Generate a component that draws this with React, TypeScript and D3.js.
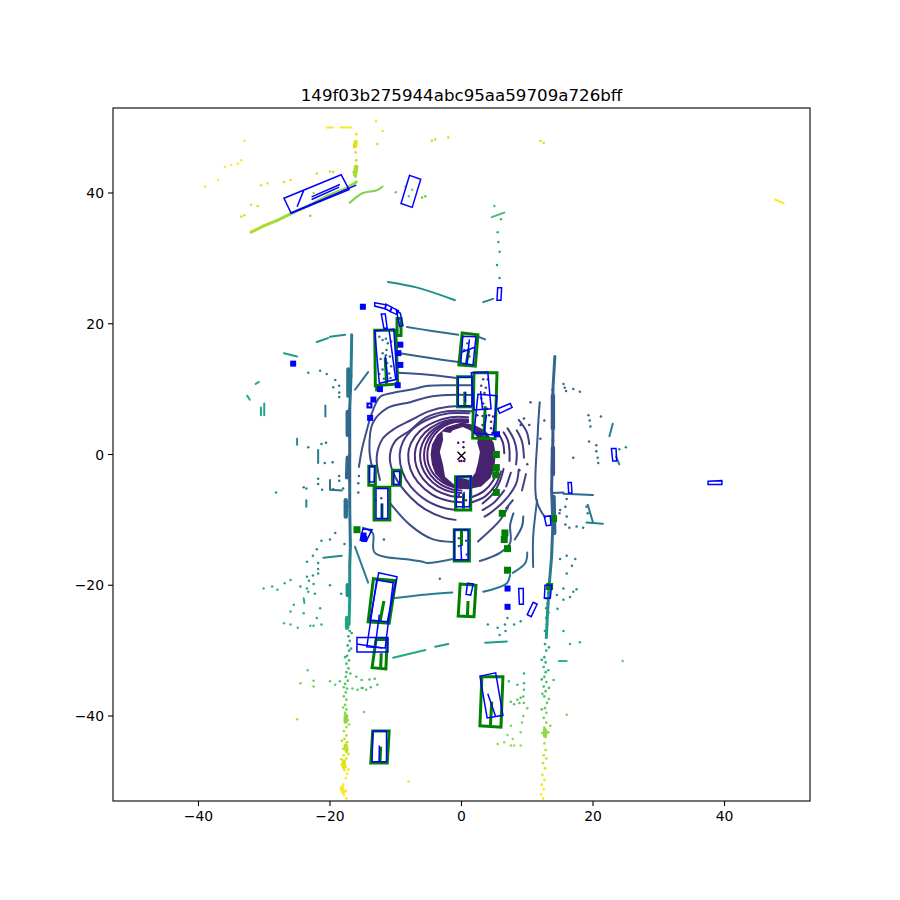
import React from "react";
import * as d3 from "d3";

type P = [number, number];

const titleText = "149f03b275944abc95aa59709a726bff";
const xTicks = [-40, -20, 0, 20, 40];
const yTicks = [-40, -20, 0, 20, 40];
const domainX: P = [-53, 53];
const domainY: P = [-53, 53];
const colorMaxDistance = 53;

const innerDense: P[] = [[-4.7,0],[-4.5,1.5],[-3.7,3],[-2.3,4.2],[0,4.9],[2,4.5],[3.7,3.6],[4.9,1.8],[5.2,0],[5,-2],[4.4,-3.6],[3,-4.9],[1,-5.3],[-1,-5.2],[-2.7,-4.4],[-4,-2.9],[-4.5,-1.5]];
const egoHole: P[] = [[-2.9,3.5],[-1.7,3.3],[-1.3,3.7],[0.2,4.2],[1.3,3.7],[2.1,3],[2.5,2.5],[2.4,1.8],[2.8,0.4],[2.5,-1.3],[2.1,-2.8],[1.3,-3.9],[-0.7,-3.4],[-1,-4.7],[-2.5,-3.4],[-2.8,-1.6],[-3.3,0.4],[-2.8,2.2]];
const egoDots: P[] = [[-0.5,1.8],[0.3,1.9],[0.3,1.1],[0,-1],[-0.3,-1],[0.4,-1]];
const egoMarker: P = [0, -0.2];

const rings: P[][] = [
  [[1,4.95],[-1,4.95],[-2.6,4.36],[-4.06,3.12],[-4.94,1.49],[-5.2,0],[-5,-1.53],[-4.26,-2.96],[-2.86,-4.28],[-1.3,-4.95],[0,-5.1]],
  [[1,5.1],[-1.1,5.1],[-2.85,4.49],[-4.45,3.21],[-5.42,1.53],[-5.7,0],[-5.47,-1.65],[-4.67,-3.19],[-3.14,-4.62],[-1.43,-5.34],[0,-5.5]],
  [[1,5.2],[-1.3,5.2],[-3.15,4.58],[-4.91,3.28],[-5.99,1.56],[-6.3,0],[-6.05,-1.77],[-5.17,-3.42],[-3.47,-4.96],[-1.58,-5.72],[0,-5.9]],
  [[1,5.35],[-1.4,5.35],[-3.55,4.71],[-5.54,3.37],[-6.75,1.6],[-7.1,0],[-6.82,-1.95],[-5.82,-3.77],[-3.9,-5.46],[-1.78,-6.3],[0,-6.5]],
  [[1,5.7],[-1.6,5.7],[-4.05,5],[-6.32,3.6],[-7.7,1.7],[-8.1,0],[-7.78,-2.19],[-6.64,-4.23],[-4.46,-6.13],[-2.03,-7.08],[0,-7.3]],
  [[1.2,6.3],[-1.9,6.3],[-4.7,5.54],[-7.33,3.97],[-8.93,1.89],[-9.4,0],[-9.02,-2.55],[-7.71,-4.93],[-5.17,-7.14],[-2.35,-8.25],[0,-8.5]],
  [[1.6,6.6],[-2.2,6.6],[-5.5,5.6],[-7.8,3.7],[-10.1,2],[-10.9,-0.5],[-10.1,-3.4],[-7.8,-6.5],[-5.5,-8.4],[-2.6,-9.7],[-0.9,-10]],
  [[1.6,7.4],[-2,7.3],[-5,6.6],[-7.8,5.2],[-10.4,3.8],[-12,2.4],[-12.9,-0.4],[-12.4,-3.9]],
  [[-10.9,-7.4],[-7.8,-10.8],[-4.5,-12.9],[-1.2,-13.4]],
  [[1.7,9.1],[-2,9.1],[-5,8.8],[-7.8,8],[-11.3,7.1],[-13.5,4.8],[-14,0.7],[-13.6,-1.9]],
  [[-15,-11.2],[-13.5,-12],[-13.2,-15],[-7.8,-16.1],[-5.9,-16.4],[-5.2,-16.6],[-1.3,-16]],
  [[1.5,10.6],[-2,10.6],[-5,10.5],[-7.8,9.9],[-10.5,9.4],[-12.4,8.8],[-13.6,6.4],[-14.4,3.7],[-15.1,1],[-15.6,-1.9]],
  [[-9.7,12.5],[-5,12.2],[-0.7,11.7]],
  [[-14.2,12.6],[-16.2,9.9]],
  [[-9.4,15.5],[-5,14.8],[-0.2,14.1]],
  [[-8.3,19.5],[-4.5,18.9],[-0.5,18.3]],
  [[2.6,18],[3.6,17.6]],
  [[-11.2,26.4],[-7,25.6],[-1,23.6]],
  [[3.3,23.3],[4.8,23.8]],
  [[-22,17.2],[-20.3,17.8]],
  [[-20,18],[-17.7,18.3]],
  [[-16.2,-14.1],[-14.2,-19.6]],
  [[5.6,3.2],[6.3,1.8],[6.5,0.2]],
  [[6.4,3.4],[7.1,2],[7.3,0.5],[7.3,-1]],
  [[7,4],[8,2.2],[8.4,0.3],[8.3,-1.5]],
  [[8.4,3.7],[9.2,2],[9.5,-0.5]],
  [[8.7,5.3],[9.9,3.5],[10.3,1.6]],
  [[1.6,-6.5],[3.4,-5.6],[4.8,-4],[5.6,-2]],
  [[1.6,-7.3],[3.6,-6.4],[5.2,-4.6],[6,-2.6]],
  [[6.4,-2.2],[5.8,-4.2],[4.8,-6],[3.2,-7.5]],
  [[7.5,-2.8],[6.8,-4.9]],
  [[6.5,-5.5],[5,-7.3],[3.2,-8.5]],
  [[8.7,-2.3],[8.3,-4.5],[6.6,-7],[4.3,-9],[3.5,-9.5]],
  [[9.8,-3],[9.2,-5.5]],
  [[7.8,-7],[6.8,-8.2]],
  [[2.5,-13.3],[5.9,-10],[7.1,-8]],
  [[2.8,-16.3],[5.9,-15],[7.4,-13.5],[7.4,-10.8],[7.9,-9]],
  [[8.1,-13],[9.2,-11],[9.4,-9.5]],
  [[7.8,-18.1],[9.7,-16.6],[10,-15]],
  [[3.3,-21],[6.9,-19.7],[7.4,-18.4]],
  [[11.5,-7],[10.9,-12.6],[10.9,-17.2]],
  [[11.9,8],[11.6,3.3],[11.4,-7],[12.7,-9.6]],
  [[-10.4,-22],[-5.3,-21.4],[-1.4,-21.1]],
  [[-10.4,-31.1],[-5.5,-29.9]],
  [[-4,-29.4],[-2,-29]],
  [[3.6,-28.8],[6.9,-28.6]],
  [[4.6,36.3],[6.5,37]],
  [[47.7,39],[49,38.4]],
  [[-17,38.5],[-15,40],[-12.9,40.4],[-12,41]],
  [[-30,7.8],[-30,6]],
  [[-30.5,7.2],[-30.5,6]],
  [[-20.7,7.5],[-20.7,5.8]],
  [[-25,2.4],[-25,1.5]],
  [[-21.8,0.7],[-21.8,-1.3]],
  [[-23.6,-7],[-23.6,-8]],
  [[-20,-3.9],[-20,-5.4]],
  [[-19.9,-5.4],[-18.2,-5.5]],
  [[-21,-15.8],[-18.2,-15.5]],
  [[-27,15.5],[-25,15]],
  [[-31.3,10.8],[-30.8,11.1]],
  [[-32.6,9],[-32.2,8.4]],
  [[-24,-22],[-23.9,-22.7]],
  [[15.5,-6],[20,-6.2]],
  [[13.8,-5.9],[15.5,-5.8]],
  [[19.2,-7.7],[20,-10.4]],
  [[19,-10.4],[21.5,-10.6]],
  [[23.5,-0.3],[24,-1.5]],
  [[22.5,2.8],[23,4.7]],
  [[14.8,-31.6],[16,-31.6]],
  [[-20.5,50],[-19.5,50]],
  [[-18.4,50],[-16.8,50]],
  [[-8,-50],[-8.1,-50]],
];

const walls: P[][] = [
  [[-16.7,18.3],[-16.8,12],[-17,7],[-17,3],[-17,0],[-17,-4],[-17,-8],[-16.9,-14],[-17,-17]],
  [[14.2,15],[13.9,9.9],[13.9,2.2],[13.7,-5.4],[13.9,-10.5],[13.7,-15.7],[13.4,-19.2]],
  [[-17,-17],[-17,-22],[-17.1,-26]],
  [[13.4,-19.2],[13.1,-24],[12.9,-28]],
  [[-16,41.7],[-17.5,40.7],[-20.5,39.5],[-23,38.2],[-25,37.3],[-28,35.8],[-30,35],[-32,34]],
];
const wallThick: P[][] = [
  [[-17.2,13],[-17.2,9]],
  [[-17.3,6.5],[-17.3,3]],
  [[-17.3,-0.5],[-17.4,-3.5]],
  [[-17.6,-7],[-17.6,-9.5]],
  [[13.9,9],[13.9,4]],
  [[13.9,1],[13.9,-3]],
  [[14,-6.5],[14.1,-12]],
  [[-17.3,-20],[-17.3,-21.5]],
  [[-17.4,-25],[-17.4,-26.5]],
  [[-17.9,-46.9],[-17.9,-47.8]],
  [[-18.2,-51],[-18,-51.6]],
  [[-17.6,-40],[-17.6,-40.8]],
  [[-17.6,-44.5],[-17.5,-45.2]],
  [[12.7,-42.2],[12.7,-43]],
  [[-16,44],[-16.2,42.8]],
  [[-16.1,47.8],[-16.2,47.2]],
];

const wallDots: P[] = [
  [-17,-27],[-17.2,-27.8],[-17,-28.5],[-17.3,-29.2],[-17.1,-30],[-17.4,-30.8],[-17.1,-31.5],[-17.5,-32],[-17.2,-32.7],[-17.5,-33.3],[-17.6,-34],[-17.3,-34.6],[-17.7,-35.1],[-17.4,-35.8],[-17.6,-36.4],[-17.9,-37],[-17.5,-37.5],[-17.7,-38.3],[-17.5,-39],[-17.7,-39.5],[-17.4,-40],[-17.3,-40.6],[-17.7,-41],[-17.5,-41.7],[-17.9,-42.3],[-17.5,-43],[-17.8,-43.5],[-17.4,-44],[-17.7,-44.5],[-18,-45],[-17.5,-45.5],[-17.9,-46],[-17.5,-46.5],[-17.9,-47],[-18.2,-47.4],[-17.6,-47.8],[-17.8,-48.3],[-17.4,-48.8],[-17.6,-49.5],[-18,-50.5],[-18.2,-51],[-17.6,-51.5],[-17.9,-52.1],[-17.5,-52.6],
  [-16.7,-27.3],[-16.8,-29.7],[-17.7,-31],[-16.9,-33.5],[-17.9,-35.6],[-18,-38.7],[-17.1,-41.3],[-18.2,-43.8],[-17.2,-45.8],[-18.3,-46.6],[-17.2,-48.2],
  [13.2,-19.8],[13,-20.5],[13.2,-21.2],[12.9,-22],[13.1,-22.8],[12.9,-23.5],[13.2,-24.2],[12.9,-25],[13,-26],[12.7,-27],[12.9,-28],[12.7,-29],[12.9,-30],[12.6,-31],[12.8,-31.8],[12.5,-32.5],[12.8,-33.3],[12.6,-34],[12.9,-34.8],[12.5,-35.5],[12.8,-36.2],[12.6,-37],[13,-38],[12.7,-38.8],[12.9,-39.5],[12.5,-40.3],[12.9,-41],[12.6,-41.8],[13.2,-42.5],[12.8,-43.2],[12.6,-44.2],[12.8,-45.2],[12.5,-46],[12.9,-46.5],[12.4,-47.2],[12.7,-48],[12.3,-49],[12.6,-49.8],[12.2,-50.5],[12.5,-51.2],[12.1,-52],[12.4,-52.6],
  [13.3,-29.5],[12.2,-31.4],[13.2,-33],[12.2,-34.4],[13.3,-35.7],[12.3,-36.6],[13.3,-37.4],[12.2,-39],[13.5,-41.5],[12.3,-42.6],
  [-16,49],[-16,47.8],[-16.3,47],[-16.1,46.2],[-16,45],[-16.2,44],[-16.4,43.2],[-16.1,42.5],
];

const scatterDots: P[] = [
  [-13,51],[-12,49.5],[-12.8,47.5],[-2,48.5],[-4.5,48],[-4,48.2],[12,48],[12.5,47.7],[-33,48],[-33.5,45],[-34,44.5],[-35,44.3],[-29.5,41.5],[-30.5,41.2],[-26,42],[-27,41.7],[-22,43],[-20,43.3],[-19.5,43.2],[-36,44],[-37,42],[-39,41],[-32,38.2],[-33,36.6],[-33.5,36.4],[-31,38],[-23,36.5],[-22.5,40],[-10,40.1],[-8.5,41],[-8,39.5],[-6,39.3],[-7.5,40.5],[-5.5,39.5],[5.5,34],[5.6,32.5],[5.8,31],[5.4,29],[5.8,27],[6,36],[5,38],
  [-21.5,12.8],[-23.3,12.5],[-20.5,12.3],[-19.2,11.4],[-18.6,10.5],[-18.6,9.5],[-18.6,8.8],[-19.5,10.3],[-23.3,1.1],[-21.3,1.6],[-20.6,1.8],[-20.8,-1.3],[-19.6,-1.2],[-28.2,-5.8],[-24,-5],[-23.6,-5.2],[-21.8,-3.7],[-21.8,-4.5],[-19.5,-5.3],[-21.2,-5.4],[-22,-14.5],[-21.3,-13.2],[-20,-13],[-19.2,-12],[-17.8,-13.7],[-22.6,-15.5],[-23.5,-16.4],[-21.8,-16.6],[-21.8,-17.5],[-21.8,-18.2],[-22.6,-18.5],[-23.5,-18.7],[-23.5,-20.5],[-22.5,-19.8],[-20,-20],[-22.3,-21.3],[-18.3,-21.3],
  [-26.9,-19.7],[-26,-19.2],[-23.2,-19.3],[-23.3,-21],[-30.1,-20.5],[-28.8,-20.2],[-28,-20.7],[-24.5,-20.2],[-26,-24],[-25.5,-23],[-24,-24.3],[-21.5,-23.5],[-22,-25],[-27,-25.8],[-26,-26],[-24.9,-26.5],[-23,-26.2],[-22.5,-26.2],[-21.3,-26],[-23.4,-33],[-24.5,-35],[-22.5,-34.6],[-22.5,-35.5],[-20,-34.7],[-19.2,-35.2],[-18.5,-34.7],[-16,-34],[-15.2,-34.5],[-15,-35.7],[-14,-34.4],[-13.8,-35.6],[-12.8,-35.2],[-16.6,-35.8],[-15.8,-36],[-15.2,-35.7],[-14.5,-36],[-13.2,-34.3],[-14.8,-39.4],[-25,-40.5],
  [7.2,-34.7],[8.5,-35.2],[9.5,-33.5],[9.5,-35],[9.5,-36],[9.4,-37],[9.5,-38],[8,-38.2],[8.5,-37.5],[8.8,-38],[7.5,-37.8],[9,-37.2],[10,-38.8],[9.4,-40],[9.2,-41],[7.5,-41.5],[9,-42.5],[7,-42.9],[7.8,-43.5],[9,-44.5],[5.5,-44.3],[6.5,-44],[8,-44.5],[7.5,-44.5],[16,-39.8],[14,-34.5],[5.8,-27.6],[4,-26],[5.5,-26.5],[7,-25],[6.6,-26],[6.7,-27],[8,-26],[9,-25.5],[16.5,-29],[18,-28.7],[24.5,-31.6],[15.5,-27],[14.6,-23.6],[14.5,-21.5],[15.5,-20.5],[16.5,-21.8],[17,-21],[15.5,-22.2],[17.5,-20.6],[15,-16],[16,-15.5],[16.8,-17],[17.3,-16],[16,-18.2],
  [10.5,8],[9.5,5.5],[10.3,4.5],[9,4.5],[12.6,5.2],[12,2.4],[10,-1.5],[8.8,-2.4],[15.5,10.8],[15.7,10.2],[15.9,9.7],[17,10],[18,9.6],[19.3,6],[19.5,5.2],[21.2,5.8],[19.6,4.3],[19.4,2],[20.5,1.4],[20.5,0.5],[20.7,-0.5],[20.8,-1.3],[17,-0.5],[25,1.1],[24,0.8],[16,-9.5],[15.8,-10.7],[16.4,-11.2],[17.5,-11],[18.5,-11.2],[19,-8],[19.2,-9],[16,-6.8],[15.8,-8],[15,-8.5],[14.9,-9],[-18,-5.2],[-18.6,-4],[-18.6,-3.3],[-15.6,-3.3],[-15.7,-4.4],[-15.7,-5.8],[-13.1,-7],[-11.8,-13],[-3.3,-19],
  [-12.5,18],[-12,17.5],[-11.5,17.7],[-11.4,16],[-12,15.5],[-10.9,15],[-12.3,14.6],[-11.3,14],[-10.7,13.5],[-12,13],[-12.5,12.3],[-11,12.4],[-10.8,11.7],[-11.8,11.6],[-11.2,17],[-10.7,17.3],[-11.5,15.2],
  [3.3,11.5],[4,11.5],[3,10.5],[3.7,10.2],[3.5,9.4],[3,8.6],[3.3,7.8],[3.9,7],[4.2,6],[3.2,5.9],[4.5,5],[4.8,5.8],[3.2,4.5],[3.5,3.8],[4.5,4],[4.7,3.3],[2.4,6],[2.3,4],[0.4,16],[1.2,15],[0.9,17],
  [-13,-9.9],[-12.2,-6.7],[0.2,-5],[-0.4,-6.2],[0.7,-7],[-0.4,-12.8],[0.7,-13.2],[0.8,-15.3],[-0.4,-14],
];

const greenBoxes: P[][] = [
  [[-13.1,10.5],[-9.7,10.8],[-10,19],[-13.2,19]],
  [[0.1,18.6],[2.5,18.3],[2.1,13.5],[-0.4,13.7]],
  [[-0.6,11.9],[1.7,11.9],[1.7,7.3],[-0.6,7.3]],
  [[1.9,12.5],[5.4,12.5],[5.1,2.4],[1.7,2.5]],
  [[-0.9,-3.4],[1.4,-3.4],[1.4,-8.5],[-0.9,-8.5]],
  [[-13.3,-5],[-10.9,-5],[-10.9,-10],[-13.3,-10]],
  [[-1.1,-11.5],[1.2,-11.5],[1.2,-16.3],[-1.1,-16.3]],
  [[-0.2,-19.8],[2.2,-20],[1.9,-24.8],[-0.5,-24.7]],
  [[-13.4,-19],[-10,-19.3],[-11,-25.8],[-14.2,-25.6]],
  [[-13,-28.3],[-11.3,-28.3],[-11.5,-32.8],[-13.6,-32.6]],
  [[3.1,-34],[6.3,-34],[6,-41.7],[2.8,-41.5]],
  [[-13.5,-42.3],[-11,-42.3],[-11.3,-47.2],[-13.8,-47.2]],
  [[-14.1,-1.8],[-13.1,-1.8],[-13.1,-4.7],[-14.1,-4.7]],
  [[-10.5,-2.4],[-9.2,-2.4],[-9.3,-4.7],[-10.5,-4.7]],
  [[-9.8,20.8],[-9.2,20.8],[-9.2,18.2],[-9.8,18.2]],
];
const greenHeadings: P[][] = [
  [[-11.4,10.8],[-11.6,14.8]],
  [[0.7,13.7],[1.1,16]],
  [[0.5,7.5],[0.5,9.6]],
  [[3.4,2.6],[3.6,7.4]],
  [[0.3,-8.3],[0.3,-6]],
  [[-12.1,-9.9],[-12.1,-7.5]],
  [[0,-11.6],[0,-14]],
  [[0.9,-24.6],[1,-22.4]],
  [[-12.4,-25.6],[-11.8,-22.4]],
  [[-12.3,-32.7],[-12.2,-30.4]],
  [[4.4,-41.4],[4.6,-37.8]],
  [[-12.4,-47.1],[-12.3,-44.7]],
];
const greenPeds: P[] = [[5.3,0],[5.3,-2],[5.2,-3.1],[5.3,-5.8],[6.2,-9],[6.6,-12],[6.5,-13],[7,-14.4],[7,-17.7],[-15.9,-11.5],[-12.6,10.2],[14,-9.8],[13.4,-20.2]];

const blueBoxes: P[][] = [
  [[-13.2,18.9],[-10.3,19.2],[-9.8,11.5],[-12.5,10.9]],
  [[0.2,18.1],[2.2,18],[1.75,13.7],[-0.1,14]],
  [[-0.5,11.8],[1.6,11.8],[1.6,7.4],[-0.5,7.4]],
  [[1.5,12.5],[4,12.6],[4.5,7],[1.9,6.8]],
  [[2.5,9.2],[5.4,9],[4.8,3],[1.9,3.3]],
  [[-0.7,-3.4],[1.45,-3.3],[1.2,-8],[-0.8,-8]],
  [[-13,-5.2],[-11.2,-5.2],[-11.2,-9.8],[-13,-9.8]],
  [[-1.1,-11.5],[1,-11.5],[1,-16.1],[-1.1,-16.1]],
  [[0.9,-19.7],[1.8,-19.8],[1.4,-21.5],[0.7,-21.4]],
  [[-12.6,-18.1],[-9.8,-18.7],[-11.3,-25.6],[-13.9,-25.3]],
  [[-12.9,-19.2],[-10.4,-19.6],[-11.6,-29.6],[-14.4,-29.4]],
  [[-15.9,-28],[-11.2,-28],[-11.2,-30.2],[-15.9,-30.2]],
  [[2.8,-33.9],[5.2,-33.4],[6.3,-39.9],[3.9,-40.3]],
  [[-13.5,-42.3],[-11.4,-42.3],[-11.4,-47],[-13.6,-47]],
  [[-14,-1.8],[-13.2,-1.8],[-13.3,-4.2],[-14,-4.2]],
  [[-10.3,-2.6],[-9.4,-2.6],[-9.4,-4.6],[-10.3,-4.6]],
  [[-13.2,23.2],[-11.5,22.9],[-11.6,22.3],[-13.2,22.7]],
  [[-11.5,23],[-10.6,22.5],[-10.8,21.9],[-11.6,22.3]],
  [[-10.6,22.5],[-9.6,22],[-9.8,21.4],[-10.9,21.9]],
  [[-9.9,22],[-9.3,21.6],[-8.9,19.7],[-9.4,19.6]],
  [[-12.2,21.5],[-11.6,21.5],[-11.3,19.3],[-11.8,19.3]],
  [[5.5,7],[7.4,7.8],[7.7,7.2],[5.8,6.3]],
  [[5.5,25.5],[6.1,25.5],[6,23.6],[5.4,23.6]],
  [[16.2,-4.3],[16.7,-4.3],[16.8,-5.9],[16.3,-5.9]],
  [[22.8,0.9],[23.5,0.9],[23.6,-1],[23,-1]],
  [[37.5,-4.1],[39.6,-4],[39.6,-4.6],[37.5,-4.6]],
  [[12.6,-9.5],[13.5,-9.4],[13.6,-10.8],[12.9,-10.9]],
  [[12.7,-20],[13.7,-20],[13.5,-22],[12.6,-22]],
  [[8.7,-20.5],[9.4,-20.5],[9.4,-22.9],[8.8,-22.9]],
  [[10,-24.5],[10.9,-22.6],[11.5,-22.9],[10.6,-24.8]],
  [[-15,-11.4],[-13.6,-11.5],[-14.5,-13.3],[-15.4,-13.1]],
  [[-7.9,42.7],[-6.2,42.1],[-7.5,37.8],[-9.2,38.4]],
  [[-27,39.2],[-18.3,42.8],[-17.1,40.5],[-25.9,36.9]],
];
const blueHeadings: P[][] = [
  [[-11.2,11.2],[-11.6,15]],
  [[-10,11.5],[-11,18.9]],
  [[0.8,13.8],[1.2,17.6]],
  [[-0.1,15.6],[2,16.4]],
  [[0.6,8],[0.6,9.6]],
  [[3.2,6.9],[2.9,9.7]],
  [[3.4,3.1],[3.8,6.1]],
  [[0.2,-8],[0.4,-5.7]],
  [[-12.1,-9.8],[-12.1,-7.5]],
  [[0,-16.1],[-0.1,-13.8]],
  [[-13.1,-29.2],[-12.5,-24.5]],
  [[-15.9,-29],[-12,-29.6]],
  [[5.2,-40.1],[4,-36.6]],
  [[-12.5,-47],[-12.5,-44.5]],
  [[-25,37.9],[-24,40.4]],
  [[-26,36.9],[-16,41.2]],
  [[-22.8,39.4],[-18.5,41.3]],
  [[-22.8,39],[-18.6,40.9]],
];
const bluePeds: P[] = [[-15,22.6],[-9.3,16.8],[-9.6,15.5],[-9.3,13.7],[-12.4,10],[-9.7,10.6],[-13.4,8.4],[-14,7.5],[-13.9,5.6],[5.4,3.1],[7,-20.5],[7,-23.3],[-14.8,-12.9],[-14.9,-12.4],[-25.6,13.9]];
const openPeds: P[] = [[-14,7.5]];

const viridisAt = (a: P, b: P) => {
  const m = Math.hypot((a[0] + b[0]) / 2, (a[1] + b[1]) / 2);
  return d3.interpolateViridis(Math.min(1, m / colorMaxDistance));
};
const meanColor = (r: P[]) => {
  const m = d3.mean(r, (p) => Math.hypot(p[0], p[1])) || 0;
  return d3.interpolateViridis(Math.min(1, m / colorMaxDistance));
};

export default function App() {
  const x = d3.scaleLinear().domain(domainX).range([113, 810]);
  const y = d3.scaleLinear().domain(domainY).range([801, 108]);
  const line = d3.line<P>().x((d) => x(d[0])).y((d) => y(d[1]));
  const smooth = d3.line<P>().x((d) => x(d[0])).y((d) => y(d[1])).curve(d3.curveCatmullRom.alpha(0.5));
  const closed = d3.line<P>().x((d) => x(d[0])).y((d) => y(d[1])).curve(d3.curveLinearClosed);

  const curves = (list: P[][], w: number, key: string) =>
    list.map((r, i) => (
      <path key={`${key}${i}`} d={smooth(r) || ""} stroke={meanColor(r)} strokeWidth={w} strokeLinecap="round" fill="none" />
    ));
  const runs = (list: P[][], w: number, key: string) =>
    list.flatMap((r, i) =>
      d3.pairs(r).map(([a, b], j) => (
        <path key={`${key}${i}-${j}`} d={line([a, b]) || ""} stroke={viridisAt(a, b)} strokeWidth={w} strokeLinecap="round" fill="none" />
      ))
    );
  const dots = (list: P[], r: number, key: string) =>
    list.map((p, i) => <circle key={`${key}${i}`} cx={x(p[0])} cy={y(p[1])} r={r} fill={viridisAt(p, p)} />);
  const boxes = (list: P[][], color: string, w: number, key: string) =>
    list.map((b, i) => <path key={`${key}${i}`} d={closed(b) || ""} fill="none" stroke={color} strokeWidth={w} strokeLinejoin="miter" />);
  const heads = (list: P[][], color: string, w: number, key: string) =>
    list.map((b, i) => <path key={`${key}${i}`} d={line(b) || ""} fill="none" stroke={color} strokeWidth={w} />);
  const peds = (list: P[], color: string, size: number, key: string) =>
    list.map((p, i) => (
      <rect key={`${key}${i}`} x={x(p[0]) - size / 2} y={y(p[1]) - size / 2} width={size} height={size} fill={color} />
    ));

  return (
    <svg width={900} height={900} style={{ position: "absolute", left: 0, top: 0, background: "#fff" }} fontFamily="DejaVu Sans">
      <defs>
        <clipPath id="plot"><rect x={113} y={108} width={697} height={693} /></clipPath>
      </defs>
      <g clipPath="url(#plot)">
        <path d={closed(innerDense) || ""} fill="#46236f" />
        <path d={closed(egoHole) || ""} fill="#fff" />
        {dots(egoDots, 1.2, "e")}
        {curves(rings, 2, "r")}
        {runs(walls, 3, "w")}
        {runs(wallThick, 4.4, "t")}
        {dots(wallDots, 1.35, "d")}
        {dots(scatterDots, 1.25, "s")}
        {boxes(greenBoxes, "green", 3, "gb")}
        {heads(greenHeadings, "green", 3, "gh")}
        {peds(greenPeds, "green", 7, "gp")}
        {boxes(blueBoxes, "blue", 1.5, "bb")}
        {heads(blueHeadings, "blue", 1.5, "bh")}
        {peds(bluePeds, "blue", 6, "bp")}
        {openPeds.map((p, i) => (
          <circle key={`o${i}`} cx={x(p[0])} cy={y(p[1])} r={1} fill="#fff" />
        ))}
        <path d={`M${x(egoMarker[0]) - 4},${y(egoMarker[1]) - 4}L${x(egoMarker[0]) + 4},${y(egoMarker[1]) + 4}M${x(egoMarker[0]) - 4},${y(egoMarker[1]) + 4}L${x(egoMarker[0]) + 4},${y(egoMarker[1]) - 4}`} stroke="#000" strokeWidth={1.4} fill="none" />
      </g>
      <rect x={113} y={108} width={697} height={693} fill="none" stroke="#000" strokeWidth={1.1} />
      {xTicks.map((t) => (
        <g key={`xt${t}`}>
          <line x1={x(t)} x2={x(t)} y1={801} y2={806} stroke="#000" strokeWidth={1.1} />
          <text x={x(t)} y={821} textAnchor="middle" fontSize={13.9}>{String(t).replace("-", "\u2212")}</text>
        </g>
      ))}
      {yTicks.map((t) => (
        <g key={`yt${t}`}>
          <line x1={108} x2={113} y1={y(t)} y2={y(t)} stroke="#000" strokeWidth={1.1} />
          <text x={104} y={y(t) + 5} textAnchor="end" fontSize={13.9}>{String(t).replace("-", "\u2212")}</text>
        </g>
      ))}
      <text x={461.5} y={101} textAnchor="middle" fontSize={16.67}>{titleText}</text>
    </svg>
  );
}
